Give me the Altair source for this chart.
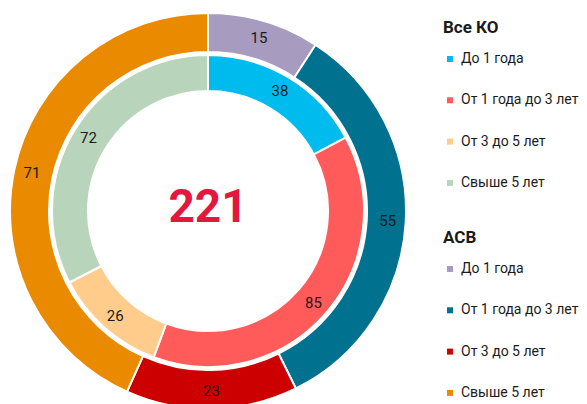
import altair as alt
import pandas as pd

categories = ["До 1 года", "От 1 года до 3 лет", "От 3 до 5 лет", "Свыше 5 лет"]
ko_values = [38, 85, 26, 72]
asv_values = [15, 55, 23, 71]
ko_colors = ["#00BBEE", "#FF5B5B", "#FFCC8C", "#B8D4BA"]
asv_colors = ["#A79CC0", "#00718F", "#CC0000", "#E98A00"]
total_label = ["221"]

ko_df = pd.DataFrame({"cat": categories, "value": ko_values, "idx": range(4)})
asv_df = pd.DataFrame({"cat": categories, "value": asv_values, "idx": range(4)})
total_df = pd.DataFrame({"t": total_label})

CX, CY = 200, 203
FONT = "Roboto"

def legend(title, y):
    return alt.Legend(
        title=title, orient="none", legendX=435, legendY=y,
        symbolType="square", symbolSize=36, symbolStrokeWidth=0,
        labelFont=FONT, labelFontSize=14, labelColor="#1a1a1a",
        titleFont=FONT, titleFontSize=17, titleFontWeight="bold", titleColor="#1a1a1a",
        rowPadding=27.3, titlePadding=15, labelOffset=4, padding=0, offset=0,
    )

def ring(df, r0, r1, colors, title, ly):
    return alt.Chart(df).mark_arc(innerRadius=r0, outerRadius=r1, stroke="white", strokeWidth=2).encode(
        theta=alt.Theta("value:Q", stack=True),
        order=alt.Order("idx:Q"),
        color=alt.Color("cat:N", scale=alt.Scale(domain=categories, range=colors), legend=legend(title, ly)),
        x=alt.value(CX), y=alt.value(CY),
    )

def labels(df, r):
    return alt.Chart(df).mark_text(radius=r, font=FONT, fontSize=15, color="#1a1a1a").encode(
        theta=alt.Theta("value:Q", stack=True),
        order=alt.Order("idx:Q"),
        text="value:Q",
        x=alt.value(CX), y=alt.value(CY),
    )

inner = alt.layer(ring(ko_df, 120, 156, ko_colors, "Все КО", 12), labels(ko_df, 140))
outer = alt.layer(ring(asv_df, 159, 198, asv_colors, "АСВ", 222), labels(asv_df, 180))

center = alt.Chart(total_df).mark_text(font=FONT, fontSize=46, fontWeight="bold", color="#E4173E", baseline="middle").encode(
    text="t:N", x=alt.value(CX), y=alt.value(CY - 3),
)

chart = alt.layer(inner, outer, center).resolve_scale(color="independent", theta="independent").properties(
    width=571, height=396, padding=0, autosize="none",
).configure_view(stroke=None)

chart.save("out.html", embed_options={"renderer": "svg", "actions": False})
